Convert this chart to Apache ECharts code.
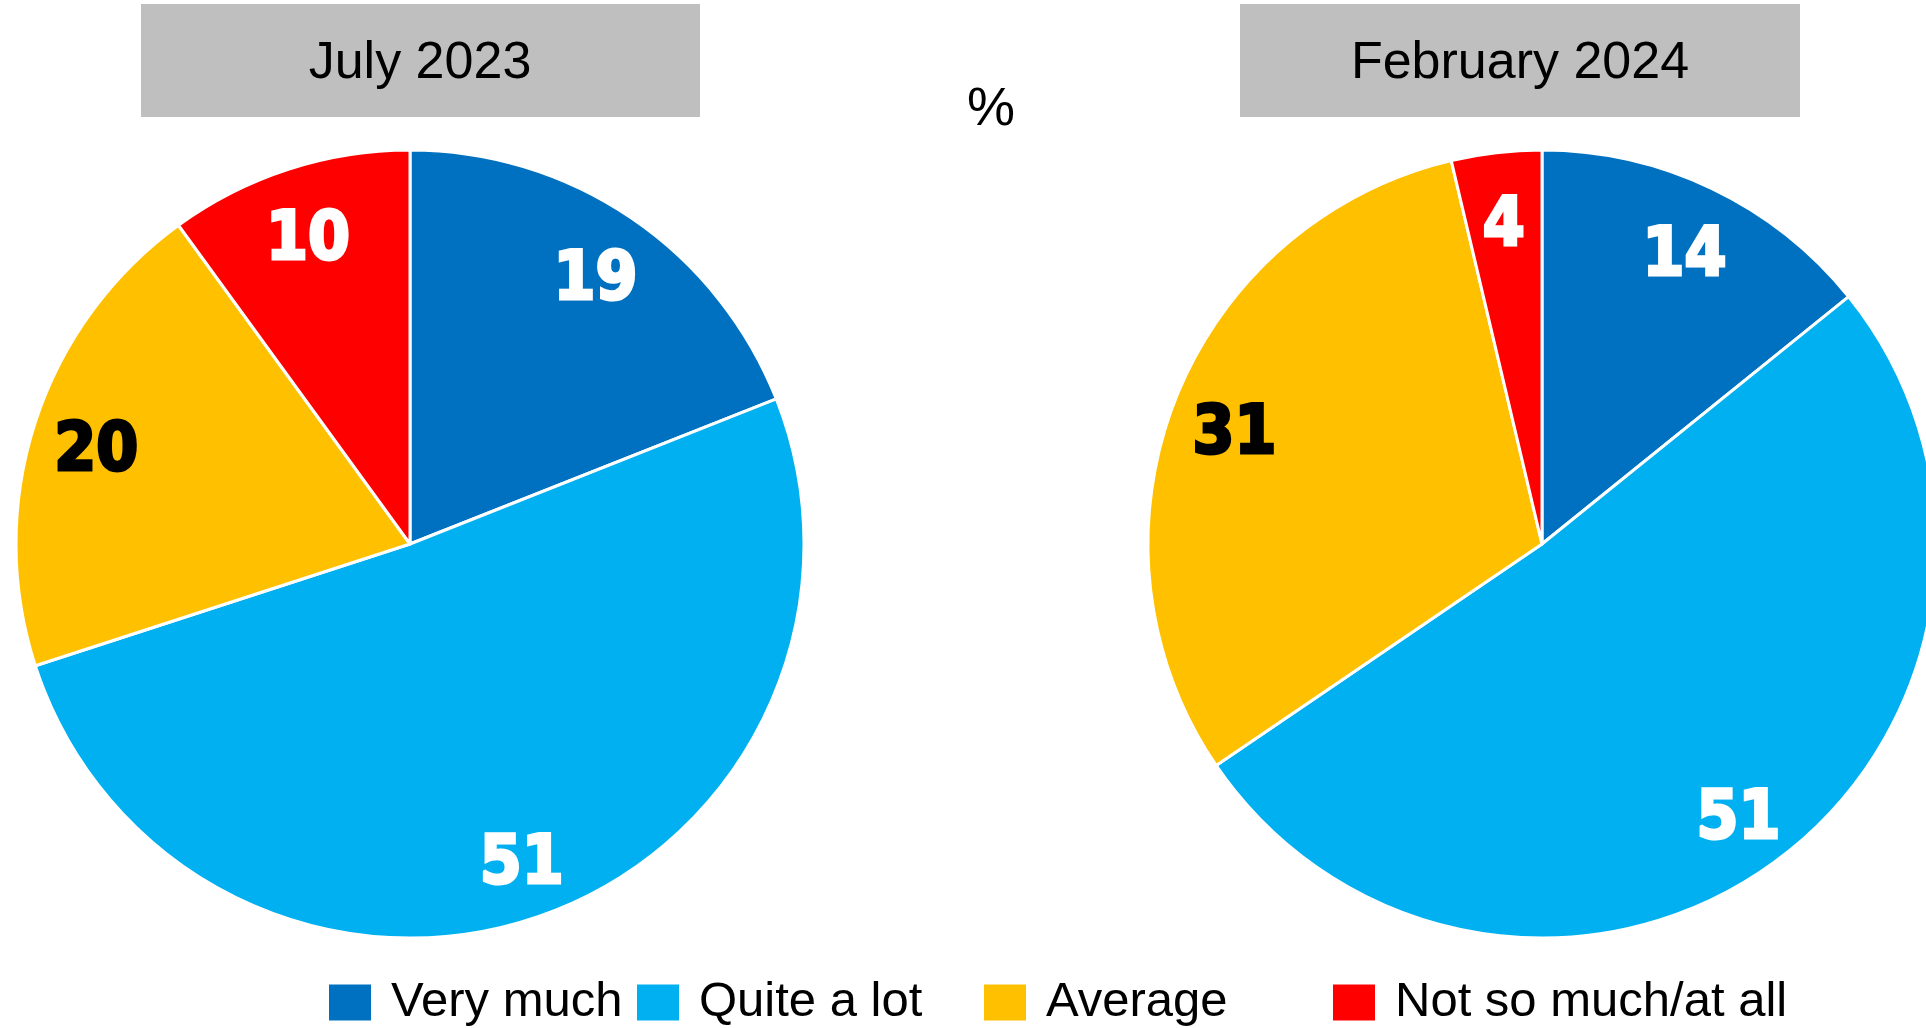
<!DOCTYPE html>
<html>
<head>
<meta charset="utf-8">
<script src="https://cdn.jsdelivr.net/npm/echarts@6/dist/echarts.min.js"></script>
<style>
  html, body { margin: 0; padding: 0; background: #fff; }
  #chart { width: 1926px; height: 1028px; }
</style>
</head>
<body>
<div id="chart"></div>
<script>
// --- data ---
const categories = ['Very much', 'Quite a lot', 'Average', 'Not so much/at all'];
const periods = ['July 2023', 'February 2024'];
const july2023 = [19, 51, 20, 10];
// labels show the rounded numbers
const feb2024 = [14.2, 51.3, 30.8, 3.7];

const colors = ['#0070C0', '#00B0F0', '#FFC000', '#FF0000'];
const labelColors = ['#fff', '#fff', '#000', '#fff'];

const R = 394;
const centers = [[410, 544], [1542, 544]];

function slices(values) {
    return values.map((v, i) => ({ name: categories[i], value: v }));
}

function pieSeries(values, center) {
    // actual pie
    const main = {
        type: 'pie',
        center: center,
        radius: [0, R],
        startAngle: 90,
        clockwise: true,
        animation: false,
        silent: true,
        label: { show: false },
        labelLine: { show: false },
        itemStyle: { borderColor: '#fff', borderWidth: 3 },
        data: slices(values).map((d, i) => ({ ...d, itemStyle: { color: colors[i] } }))
    };
    // transparent ring, only there to put the labels further out
    const labels = {
        type: 'pie',
        center: center,
        radius: [R * 0.66, R],
        startAngle: 90,
        clockwise: true,
        animation: false,
        silent: true,
        legendHoverLink: false,
        itemStyle: { color: 'rgba(0,0,0,0)', borderWidth: 0 },
        labelLine: { show: false },
        data: slices(values).map((d, i) => ({
            ...d,
            label: {
                show: true,
                position: 'inside',
                formatter: p => Math.round(p.value),
                color: labelColors[i],
                fontFamily: '"DejaVu Sans Condensed", "DejaVu Sans"',
                fontWeight: 'bold',
                fontSize: 67,
                offset: [0, 11],
                textBorderColor: labelColors[i],
                textBorderWidth: 3
            }
        }))
    };
    return [main, labels];
}

// legend items placed one by one, the gaps in the original are uneven
const legendLeft = [327, 635, 982, 1331];
const legends = categories.map((name, i) => ({
    data: [name],
    left: legendLeft[i],
    top: 978,
    padding: 0,
    orient: 'horizontal',
    itemWidth: 44,
    itemHeight: 38,
    icon: 'rect',
    selectedMode: false,
    textStyle: {
        fontFamily: 'Liberation Sans',
        fontSize: 49,
        color: '#000',
        padding: [0, 0, 0, 14]
    }
}));

const chart = echarts.init(document.getElementById('chart'));
chart.setOption({
    animation: false,
    color: colors,
    graphic: [
        { type: 'rect', shape: { x: 141, y: 4, width: 559, height: 113 }, style: { fill: '#BFBFBF' }, z: 10 },
        { type: 'rect', shape: { x: 1240, y: 4, width: 560, height: 113 }, style: { fill: '#BFBFBF' }, z: 10 },
        { type: 'text', x: 420, y: 64, z: 11, style: { text: periods[0], fill: '#000', font: '52px "Liberation Sans"', align: 'center', verticalAlign: 'middle' } },
        { type: 'text', x: 1520, y: 64, z: 11, style: { text: periods[1], fill: '#000', font: '52px "Liberation Sans"', align: 'center', verticalAlign: 'middle' } },
        { type: 'text', x: 991, y: 110, z: 11, style: { text: '%', fill: '#000', font: '54px "Liberation Sans"', align: 'center', verticalAlign: 'middle' } }
    ],
    legend: legends,
    series: [
        ...pieSeries(july2023, centers[0]),
        ...pieSeries(feb2024, centers[1])
    ]
});
</script>
</body>
</html>
